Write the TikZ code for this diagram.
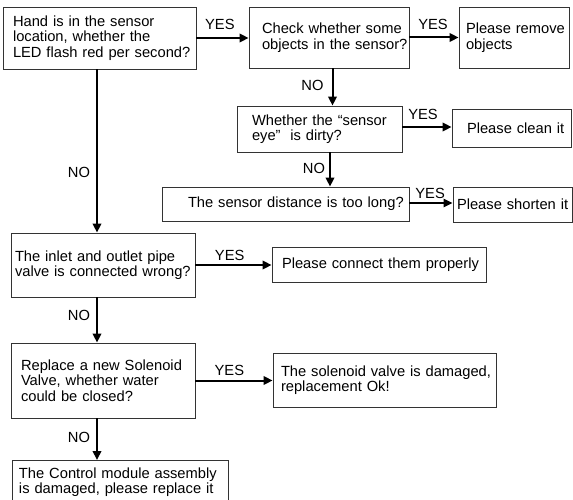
\documentclass[tikz,border=0pt]{standalone}
\usepackage{fontspec}
\setmainfont{Liberation Sans}
\usepackage{tikz}
\usetikzlibrary{arrows.meta}
\usetikzlibrary{positioning}
\tikzstyle{simpleBox} = [rectangle, draw=black!80, line width=0.9pt, inner ysep=0pt, align=left, font=\fontsize{14.7}{15.5}\selectfont, execute at begin node={\hyphenpenalty=10000\exhyphenpenalty=10000\relax}]
\tikzstyle{flowArrow} = [line width=2pt, -{Triangle[length=9pt,width=8.5pt]}]
\tikzstyle{answerLabel} = [inner sep=0pt, font=\fontsize{14.7}{15.5}\selectfont]

\begin{document}
\begin{tikzpicture}[x=1pt,y=-1pt]
	\useasboundingbox (0,0) rectangle (573,500);

	\node[simpleBox, inner xsep=10pt, text width=173pt, minimum height=62pt] at (99.5,38) (Hand-Sensor){Hand is in the sensor\\location, whether the\\LED~flash~red~per~second?};

	\node[simpleBox, inner xsep=13pt, text width=134pt, minimum height=61pt] at (329,37.5) (Check-Objects){Check~whether~some\\objects~in~the~sensor?};

	\node[simpleBox, inner xsep=7pt, text width=96pt, minimum height=61pt] at (514,37.5) (Remove-Objects){Please~remove\\objects};

	\node[simpleBox, inner xsep=15pt, text width=135pt, minimum height=46pt] at (319.5,129) (Sensor-Eye){Whether~the~“sensor\\eye”\ \ is dirty?};

	\node[simpleBox, inner xsep=15pt, text width=89pt, minimum height=38pt] at (511.5,128) (Clean-It){Please~clean~it};

	\node[simpleBox, inner xsep=26pt, text width=195pt, minimum height=34pt] at (285.5,204) (Sensor-Distance){The~sensor~distance~is~too~long?};

	\node[simpleBox, inner xsep=4pt, text width=111pt, minimum height=35pt] at (512.5,204.5) (Shorten-It){Please~shorten~it};

	\node[simpleBox, inner xsep=4pt, text width=176pt, minimum height=64pt] at (103,265) (Inlet-Outlet){The inlet and outlet pipe\\valve~is~connected~wrong?};

	\node[simpleBox, inner xsep=10pt, text width=194pt, minimum height=35pt] at (379,264.5) (Connect-Properly){Please~connect~them~properly};

	\node[simpleBox, inner xsep=10pt, text width=164pt, minimum height=75pt] at (103,380.5) (New-Valve){Replace~a~new~Solenoid\\Valve, whether water\\could be closed?};

	\node[simpleBox, inner xsep=8pt, text width=207pt, minimum height=54pt] at (384.5,380) (Valve-Damaged){The~solenoid~valve~is~damaged,\\replacement Ok!};

	\node[simpleBox, inner xsep=7pt, text width=202pt, minimum height=43pt, anchor=north] at (120,460) (Control-Module){The~Control~module~assembly\\is~damaged,~please~replace~it};

	% yes branches
	\draw[flowArrow] (Hand-Sensor.east) -- (Hand-Sensor.east -| Check-Objects.west) node[answerLabel, pos=0.45, above=7pt] (yes-1){YES};
	\draw[flowArrow] (Check-Objects.east) -- (Remove-Objects.west) node[answerLabel, pos=0.48, above=6.5pt] (yes-2){YES};
	\draw[flowArrow] ([yshift=2pt]Sensor-Eye.east) -- ([yshift=2pt]Sensor-Eye.east -| Clean-It.west) node[answerLabel, pos=0.42, above=6pt] (yes-3){YES};
	\draw[flowArrow, line width=1.5pt] ([yshift=1pt]Sensor-Distance.east) -- ([yshift=1pt]Sensor-Distance.east -| Shorten-It.west) node[answerLabel, pos=0.48, above=3.5pt] (yes-4){YES};
	\draw[flowArrow] (Inlet-Outlet.east) -- (Inlet-Outlet.east -| Connect-Properly.west) node[answerLabel, pos=0.45, above=3pt] (yes-5){YES};
	\draw[flowArrow] (New-Valve.east) -- (New-Valve.east -| Valve-Damaged.west) node[answerLabel, pos=0.44, above=3.5pt] (yes-6){YES};

	% no branches
	\draw[flowArrow] ([xshift=-2.5pt]Hand-Sensor.south) -- ([xshift=-2.5pt]Hand-Sensor.south |- Inlet-Outlet.north) node[answerLabel, pos=0.63, left=6pt] (no-1){NO};
	\draw[flowArrow] ([xshift=3.5pt]Check-Objects.south) -- ([xshift=3.5pt]Check-Objects.south |- Sensor-Eye.north) node[answerLabel, pos=0.47, left=8pt] (no-2){NO};
	\draw[flowArrow] ([xshift=10.5pt]Sensor-Eye.south) -- ([xshift=10.5pt]Sensor-Eye.south |- Sensor-Distance.north) node[answerLabel, pos=0.46, left=4pt] (no-3){NO};
	\draw[flowArrow] ([xshift=-6pt]Inlet-Outlet.south) -- ([xshift=-6pt]Inlet-Outlet.south |- New-Valve.north) node[answerLabel, pos=0.39, left=6pt] (no-4){NO};
	\draw[flowArrow] ([xshift=-6pt]New-Valve.south) -- ([xshift=-6pt]New-Valve.south |- Control-Module.north) node[answerLabel, pos=0.45, left=6pt] (no-5){NO};

\end{tikzpicture}
\end{document}
